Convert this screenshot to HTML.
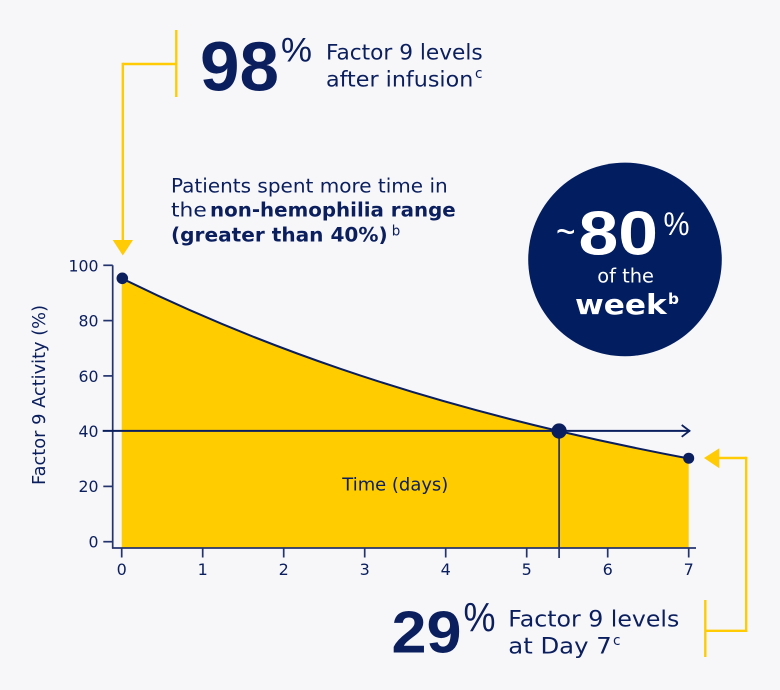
<!DOCTYPE html>
<html><head><meta charset="utf-8"><style>
html,body{margin:0;padding:0;background:#f7f7fa;}
svg{display:block;}
text{font-family:"DejaVu Sans","Liberation Sans",sans-serif;fill:#0b1f5e;}
.lib{font-family:"Liberation Sans","DejaVu Sans",sans-serif;}
</style></head><body>
<svg width="780" height="690" viewBox="0 0 780 690" xmlns="http://www.w3.org/2000/svg">
<rect width="780" height="690" fill="#f7f7fa"/>

<!-- fill area -->
<path d="M121.7,548 L121.7,278.3 C194.6,314.4 267.5,343.9 340.4,368.8 C413.3,393.7 486.2,413.95 559.1,431.1 C602.3,441.26 645.5,450.35 688.7,458.5 L688.7,548 Z" fill="#ffcc00"/>
<!-- curve -->
<path d="M121.7,278.3 C194.6,314.4 267.5,343.9 340.4,368.8 C413.3,393.7 486.2,413.95 559.1,431.1 C602.3,441.26 645.5,450.35 688.7,458.5" fill="none" stroke="#0b1f5e" stroke-width="2"/>

<!-- axes -->
<g stroke="#23336e" stroke-width="1.7" fill="none">
<line x1="112.7" y1="265.3" x2="112.7" y2="548.5"/>
<line x1="112" y1="548" x2="696" y2="548"/>
<line x1="103.3" y1="265.3" x2="112.7" y2="265.3"/>
<line x1="103.3" y1="320.6" x2="112.7" y2="320.6"/>
<line x1="103.3" y1="375.9" x2="112.7" y2="375.9"/>
<line x1="103.3" y1="486.4" x2="112.7" y2="486.4"/>
<line x1="103.3" y1="541.7" x2="112.7" y2="541.7"/>
<line x1="121.7" y1="548" x2="121.7" y2="557.5"/>
<line x1="202.7" y1="548" x2="202.7" y2="557.5"/>
<line x1="283.7" y1="548" x2="283.7" y2="557.5"/>
<line x1="364.7" y1="548" x2="364.7" y2="557.5"/>
<line x1="445.7" y1="548" x2="445.7" y2="557.5"/>
<line x1="526.7" y1="548" x2="526.7" y2="557.5"/>
<line x1="607.7" y1="548" x2="607.7" y2="557.5"/>
<line x1="688.7" y1="548" x2="688.7" y2="557.5"/>
<line x1="559.1" y1="431" x2="559.1" y2="558"/>
</g>
<!-- 40% line with arrow -->
<line x1="102.7" y1="430.9" x2="690" y2="430.9" stroke="#0b1f5e" stroke-width="2"/>
<polyline points="681.7,425 689.5,430.9 681.7,436.8" fill="none" stroke="#0b1f5e" stroke-width="1.8"/>

<!-- dots -->
<circle cx="122.3" cy="278.3" r="5.8" fill="#0b1f5e"/>
<circle cx="559.1" cy="431" r="7.6" fill="#0b1f5e"/>
<circle cx="688.7" cy="458.2" r="5.5" fill="#0b1f5e"/>

<!-- y tick labels -->
<g font-size="15.7" text-anchor="end">
<text x="98.5" y="271.3">100</text>
<text x="98.5" y="326.6">80</text>
<text x="98.5" y="381.9">60</text>
<text x="98.5" y="436.9">40</text>
<text x="98.5" y="492.2">20</text>
<text x="98.5" y="547.3">0</text>
</g>
<!-- x tick labels -->
<g font-size="16" text-anchor="middle">
<text x="121.7" y="574.8">0</text>
<text x="202.7" y="574.8">1</text>
<text x="283.7" y="574.8">2</text>
<text x="364.7" y="574.8">3</text>
<text x="445.7" y="574.8">4</text>
<text x="526.7" y="574.8">5</text>
<text x="607.7" y="574.8">6</text>
<text x="688.7" y="574.8">7</text>
</g>

<text x="342.3" y="490.7" font-size="18" textLength="106" lengthAdjust="spacingAndGlyphs">Time (days)</text>
<text transform="translate(45.2,395) rotate(-90)" font-size="17.5" text-anchor="middle" textLength="180" lengthAdjust="spacingAndGlyphs">Factor 9 Activity (%)</text>

<!-- top yellow callout -->
<g stroke="#ffcb05" stroke-width="2.4" fill="none">
<line x1="176.3" y1="30" x2="176.3" y2="97"/>
<line x1="122.8" y1="64" x2="176.3" y2="64"/>
<line x1="122.8" y1="62.8" x2="122.8" y2="241"/>
</g>
<polygon points="112.7,240 133,240 122.8,255.5" fill="#ffcb05"/>

<!-- bottom-right yellow callout -->
<g stroke="#ffcb05" stroke-width="2.4" fill="none">
<line x1="705.3" y1="600" x2="705.3" y2="657"/>
<line x1="705.3" y1="630.8" x2="746.2" y2="630.8"/>
<line x1="746.2" y1="632" x2="746.2" y2="456.8"/>
<line x1="746.2" y1="458" x2="716" y2="458"/>
</g>
<polygon points="704,458 719.3,448.3 719.3,468.3" fill="#ffcb05"/>

<!-- top stats -->
<text class="lib" x="200" y="90.7" font-size="70" font-weight="bold" textLength="79" lengthAdjust="spacingAndGlyphs">98</text>
<text class="lib" x="281" y="61.7" font-size="34" textLength="31" lengthAdjust="spacingAndGlyphs">%</text>
<text x="326" y="59.3" font-size="21" textLength="156.7" lengthAdjust="spacingAndGlyphs">Factor 9 levels</text>
<text x="326" y="86.7" font-size="21" textLength="147.3" lengthAdjust="spacingAndGlyphs">after infusion</text>
<text x="475" y="78" font-size="14.5" textLength="7.5" lengthAdjust="spacingAndGlyphs">c</text>

<!-- patients text -->
<text x="171" y="192.7" font-size="19.7" textLength="276.7" lengthAdjust="spacingAndGlyphs">Patients spent more time in</text>
<text x="171" y="216.7" font-size="19.7" textLength="35.7" lengthAdjust="spacingAndGlyphs">the</text>
<text x="210" y="216.7" font-size="19.7" font-weight="bold" textLength="245.7" lengthAdjust="spacingAndGlyphs">non-hemophilia range</text>
<text x="171" y="241.7" font-size="19.7" font-weight="bold" textLength="216.7" lengthAdjust="spacingAndGlyphs">(greater than 40%)</text>
<text x="391.7" y="235.7" font-size="14" textLength="8.5" lengthAdjust="spacingAndGlyphs">b</text>

<!-- circle -->
<circle cx="625" cy="259.4" r="96.8" fill="#021d60"/>
<text class="lib" x="556" y="245" font-size="40" style="fill:#fff" textLength="19.5" lengthAdjust="spacingAndGlyphs">~</text>
<text class="lib" x="578.5" y="254.3" font-size="62" font-weight="bold" style="fill:#fff" textLength="79.5" lengthAdjust="spacingAndGlyphs">80</text>
<text class="lib" x="663.5" y="235" font-size="32" style="fill:#fff" textLength="26" lengthAdjust="spacingAndGlyphs">%</text>
<text x="597.3" y="282.7" font-size="19.4" style="fill:#fff" textLength="56.7" lengthAdjust="spacingAndGlyphs">of the</text>
<text x="575" y="314" font-size="28" font-weight="bold" style="fill:#fff" textLength="91.7" lengthAdjust="spacingAndGlyphs">week</text>
<text x="668" y="304" font-size="15" font-weight="bold" style="fill:#fff" textLength="11" lengthAdjust="spacingAndGlyphs">b</text>

<!-- bottom stats -->
<text class="lib" x="391.5" y="652.7" font-size="59" font-weight="bold" textLength="70" lengthAdjust="spacingAndGlyphs">29</text>
<text class="lib" x="463.5" y="631.7" font-size="41" textLength="32" lengthAdjust="spacingAndGlyphs">%</text>
<text x="508.3" y="626.7" font-size="22" textLength="171" lengthAdjust="spacingAndGlyphs">Factor 9 levels</text>
<text x="508.3" y="653.3" font-size="22" textLength="103.4" lengthAdjust="spacingAndGlyphs">at Day 7</text>
<text x="613" y="645" font-size="14" textLength="7.5" lengthAdjust="spacingAndGlyphs">c</text>
</svg>
</body></html>
